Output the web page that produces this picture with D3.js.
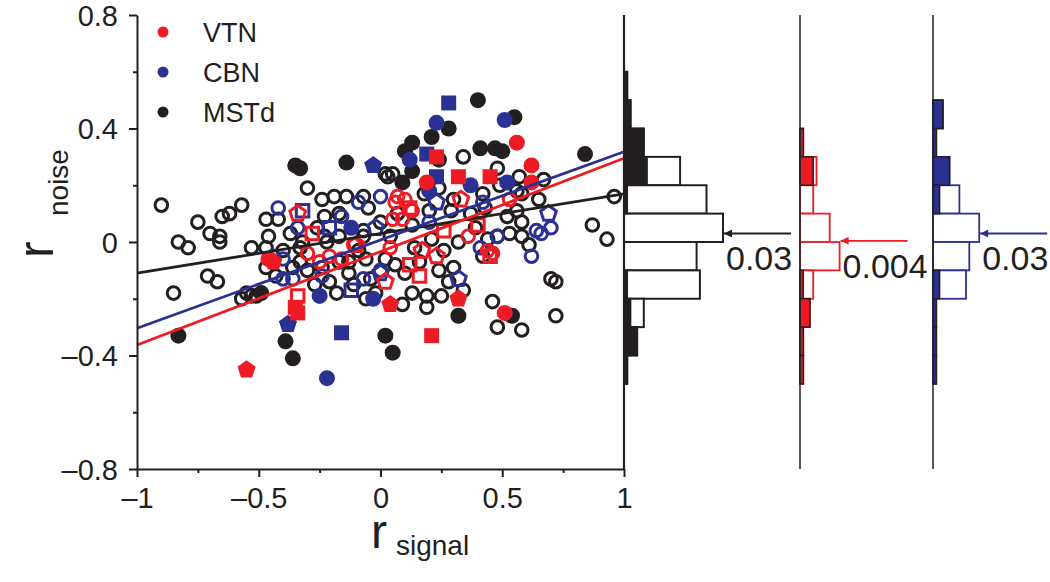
<!DOCTYPE html>
<html><head><meta charset="utf-8">
<script src="https://cdn.jsdelivr.net/npm/d3@7"></script>
<style>
body{margin:0;background:#fff;}
text{font-family:"Liberation Sans",Arial,Helvetica,sans-serif;fill:#231f20;}
</style></head>
<body><svg id="c" width="1050" height="582"></svg>
<script>
// ---------------- data ----------------
const mstdSig = [[-0.35,0.27],[-0.33,0.26],[-0.14,0.28],[0.40,0.50],[0.55,0.44],[0.28,0.40],[0.13,0.35],[0.21,0.37],[0.10,0.32],[0.41,0.33],[0.47,0.33],[0.50,0.32],[0.84,0.31],[0.13,0.25],[0.09,0.21],[0.24,0.29],[-0.49,-0.18],[-0.83,-0.33],[-0.39,-0.35],[-0.36,-0.41],[0.02,-0.33],[0.05,-0.39],[0.32,-0.26],[0.54,-0.26]];
const mstdOpen = [[-0.90,0.13],[-0.83,0.00],[-0.79,-0.02],[-0.75,0.07],[-0.70,0.03],[-0.66,0.02],[-0.66,0.00],[-0.65,0.09],[-0.62,0.10],[-0.57,0.13],
[-0.71,-0.12],[-0.67,-0.14],[-0.85,-0.18],[-0.57,-0.20],[-0.53,-0.19],[-0.30,0.19],[-0.47,0.08],[-0.42,0.08],[-0.46,0.02],[-0.47,-0.02],
[-0.37,0.03],[-0.24,0.15],[-0.19,0.16],[-0.14,0.16],[-0.07,0.16],[-0.05,0.12],[0.02,0.24],[-0.23,0.09],[-0.17,0.10],[-0.26,0.05],
[-0.23,0.02],[-0.07,0.04],[-0.32,0.00],[-0.33,-0.07],[-0.13,-0.07],[-0.06,-0.06],[-0.53,-0.02],[-0.40,-0.03],[-0.33,-0.02],[-0.22,0.00],[-0.17,0.02],[-0.07,0.02],[0.04,0.02],
[-0.36,-0.09],[-0.30,-0.10],[-0.24,-0.09],[-0.17,-0.07],[-0.13,-0.11],[-0.43,-0.12],[-0.47,-0.09],[-0.55,-0.18],[-0.51,-0.19],[-0.18,-0.18],[-0.06,-0.20],[-0.02,-0.18],
[0.05,0.24],[0.03,0.23],[0.34,0.30],[0.48,0.26],[0.24,0.19],[0.42,0.17],[0.56,0.18],[0.58,0.17],[0.57,0.23],[0.67,0.22],
[0.52,0.09],[0.56,0.11],[0.58,0.07],[0.53,0.03],[0.58,0.02],[0.48,0.02],[0.29,0.11],[0.43,0.12],[0.96,0.16],[0.87,0.06],[0.93,0.01],[0.44,0.01],
[0.70,-0.13],[0.72,-0.14],[0.72,-0.26],[0.48,-0.30],[0.58,-0.31],[0.46,-0.21],[0.09,-0.22],[0.13,-0.18],[0.19,-0.23],[0.19,-0.19],[0.25,-0.19],[0.30,-0.09],
[0.06,-0.08],[0.10,-0.11],[0.16,-0.07],[0.24,-0.10],[0.26,-0.03],[0.32,0.00],[0.39,0.05],[0.37,0.10],[0.30,0.15],[0.20,0.11],[0.13,0.06],[0.07,0.10],[0.00,0.07],
[-0.09,-0.03],[-0.04,-0.13],[-0.11,-0.15],[-0.21,-0.14],[-0.27,-0.15],[0.02,-0.06],[0.14,-0.02],[0.21,0.01],[0.28,-0.14],[0.34,-0.17],[0.61,-0.01],[0.65,0.15],[0.49,0.20],[0.18,0.17],[0.42,-0.05]];

const vtnSigCircle = [[0.56,0.35],[0.62,0.27],[0.62,0.21],[0.19,0.21],[0.51,-0.25],[-0.46,-0.06]];
const vtnSigSquare = [[0.23,0.30],[0.32,0.23],[0.45,0.23],[-0.35,-0.23],[-0.34,-0.25],[0.21,-0.33]];
const vtnSigPent = [[-0.55,-0.45],[0.32,-0.20],[0.04,-0.22],[-0.44,-0.07]];
const vtnOpenCircle = [[-0.30,-0.04],[-0.21,-0.05],[-0.25,-0.07],[-0.16,-0.06],[-0.11,-0.01],[0.04,-0.02],[0.06,0.14],[0.05,0.08],[0.07,0.16],[0.10,0.15],[0.09,0.08],[0.44,-0.03],[0.53,0.15],[0.36,0.02],[0.46,-0.04],[0.13,0.11]];
const vtnOpenSquare = [[-0.28,0.03],[-0.34,-0.19],[0.12,0.12],[0.26,0.04],[0.40,0.06],[0.12,-0.08],[0.16,-0.12],[0.45,-0.05]];
const vtnOpenPent = [[-0.34,0.10],[-0.10,-0.01],[0.02,-0.14],[0.33,0.15],[0.17,-0.03],[0.23,-0.05]];

const cbnSigCircle = [[0.23,0.42],[0.51,0.43],[0.12,0.29],[0.20,0.18],[0.37,0.20],[0.52,0.21],[-0.25,-0.19],[-0.03,-0.20],[-0.22,-0.48],[-0.12,0.05]];
const cbnSigSquare = [[0.28,0.49],[0.19,0.31],[0.23,0.23],[-0.16,-0.32]];
const cbnSigPent = [[-0.03,0.27],[-0.38,-0.29]];
const cbnOpenCircle = [[-0.42,0.12],[-0.34,0.05],[-0.09,0.14],[0.00,0.16],[-0.16,0.09],[-0.40,-0.13],[-0.36,-0.13],[-0.24,-0.12],[-0.07,-0.13],[0.00,-0.10],[0.20,0.07],[0.42,0.14],[0.64,0.04],[0.41,-0.02],[0.62,-0.05],[0.70,0.05],[0.66,0.03],[0.48,0.02],[-0.40,-0.06],[-0.44,-0.05]];
const cbnOpenSquare = [[-0.32,0.11],[-0.21,0.05],[-0.12,-0.17]];
const cbnOpenPent = [[-0.02,0.05],[0.00,-0.11],[0.23,0.14],[0.69,0.10],[0.32,-0.13]];

// regression lines: MSTd, CBN, VTN
const fitNames = ["MSTd","CBN","VTN"];
const fitSlopes = [0.14,0.311,0.329];
const fitIntercepts = [0.03,0.007,-0.034];

// histograms (bins of width 0.1, lower edges)
const binLower = [0.5,0.4,0.3,0.2,0.1,0,-0.1,-0.2,-0.3,-0.4,-0.5];
const mstdAll  = [1,2,6,17,25,30,22,23,6,4,1];
const mstdSigH = [1,2,6,7,1,0,0,1,2,4,1];
const vtnAll   = [0,0,1,5,4,9,12,4,3,1,1];
const vtnSigH  = [0,0,1,4,0,0,0,1,3,1,1];
const cbnAll   = [0,3,1,5,8,14,11,10,1,1,1];
const cbnSigH  = [0,3,1,5,2,0,0,2,1,1,1];
const histMeans = [0.03,0.004,0.03];
const histMeanLabels = ["0.03","0.004","0.03"];

const legendLabels = ["VTN","CBN","MSTd"];
const xTicks = [-1,-0.5,0,0.5,1];
const xMinor = [-0.75,-0.25,0.25,0.75];
const yTicks = [-0.8,-0.4,0,0.4,0.8];
const yMinor = [-0.6,-0.2,0.2,0.6];

// ---------------- drawing ----------------
const RED="#ed1c24", BLUE="#2b3192", BLK="#231f20";
const svg = d3.select("#c");
const x = d3.scaleLinear().domain([-1,1]).range([137,624]);
const y = d3.scaleLinear().domain([-0.8,0.8]).range([469,15]);
const fmt = d => d<0 ? "\u2013"+String(Math.abs(d)) : String(d);

function pent(r){
  const p=[];
  for(let k=0;k<5;k++){const a=-Math.PI/2+k*2*Math.PI/5;p.push([r*Math.cos(a),r*Math.sin(a)]);}
  return "M"+p.map(q=>q[0].toFixed(2)+","+q[1].toFixed(2)).join("L")+"Z";
}
function drawPts(data, shape, filled, color){
  const g = svg.append("g");
  const sel = g.selectAll("path").data(data).join("path")
    .attr("transform", d=>`translate(${x(d[0])},${y(d[1])})`);
  let dstr;
  if(shape==="circle") dstr = filled ? d3.symbol(d3.symbolCircle, Math.PI*8*8)() : d3.symbol(d3.symbolCircle, Math.PI*6.3*6.3)();
  else if(shape==="square") dstr = filled ? d3.symbol(d3.symbolSquare, 15*15)() : d3.symbol(d3.symbolSquare, 12.5*12.5)();
  else dstr = filled ? pent(9.5) : pent(8.2);
  sel.attr("d", dstr);
  if(filled) sel.attr("fill", color).attr("stroke", "none");
  else sel.attr("fill","none").attr("stroke", color).attr("stroke-width", 3);
}

// scatter
drawPts(mstdOpen,"circle",false,BLK);
drawPts(mstdSig,"circle",true,BLK);
drawPts(cbnOpenCircle,"circle",false,BLUE);
drawPts(cbnOpenSquare,"square",false,BLUE);
drawPts(cbnOpenPent,"pent",false,BLUE);
drawPts(cbnSigCircle,"circle",true,BLUE);
drawPts(cbnSigSquare,"square",true,BLUE);
drawPts(cbnSigPent,"pent",true,BLUE);
drawPts(vtnOpenCircle,"circle",false,RED);
drawPts(vtnOpenSquare,"square",false,RED);
drawPts(vtnOpenPent,"pent",false,RED);
drawPts(vtnSigCircle,"circle",true,RED);
drawPts(vtnSigSquare,"square",true,RED);
drawPts(vtnSigPent,"pent",true,RED);

// regression lines
const fitColors=[BLK,BLUE,RED];
const line = d3.line().x(d=>x(d[0])).y(d=>y(d[1]));
fitNames.forEach((n,i)=>{
  const pts=[-1,1].map(v=>[v, fitIntercepts[i]+fitSlopes[i]*v]);
  svg.append("path").attr("d",line(pts)).attr("fill","none").attr("stroke",fitColors[i]).attr("stroke-width",2.8);
});

// axes
const axL = svg.append("g").attr("transform",`translate(${x(-1)},0)`)
  .call(d3.axisLeft(y).tickValues(yTicks).tickSize(8).tickSizeOuter(0).tickPadding(11).tickFormat(fmt));
const axLm = svg.append("g").attr("transform",`translate(${x(-1)},0)`)
  .call(d3.axisLeft(y).tickValues(yMinor).tickSize(4).tickSizeOuter(0).tickFormat(""));
const axB = svg.append("g").attr("transform",`translate(0,${y(-0.8)})`)
  .call(d3.axisBottom(x).tickValues(xTicks).tickSize(8).tickSizeOuter(0).tickPadding(10).tickFormat(fmt));
const axBm = svg.append("g").attr("transform",`translate(0,${y(-0.8)})`)
  .call(d3.axisBottom(x).tickValues(xMinor).tickSize(4).tickSizeOuter(0).tickFormat(""));
[axL,axLm,axB,axBm].forEach(a=>{
  a.selectAll("path,line").attr("stroke",BLK).attr("stroke-width",2);
  a.selectAll("text").attr("font-size",29).attr("fill",BLK)
   .style("font-family",'"Liberation Sans",Arial,sans-serif');
});
axL.selectAll("text").attr("dy","0.36em");
axLm.select(".domain").remove(); axBm.select(".domain").remove();

// axis titles
svg.append("text").attr("transform","translate(53,258) rotate(-90)")
  .attr("font-size",50).text("r");
svg.append("text").attr("transform","translate(68,216) rotate(-90)")
  .attr("font-size",28).text("noise");
svg.append("text").attr("x",371).attr("y",548).attr("font-size",48).text("r");
svg.append("text").attr("x",396).attr("y",555).attr("font-size",28).text("signal");

// legend
const legColors=[RED,BLUE,BLK];
legendLabels.forEach((t,i)=>{
  svg.append("circle").attr("cx",163).attr("cy",32+40*i).attr("r",5.5).attr("fill",legColors[i]);
  svg.append("text").attr("x",203).attr("y",42+40*i).attr("font-size",27).text(t);
});

// histograms
const w = d3.scaleLinear().domain([0,30]).range([0,99]);
const bases = [x(1), 800, 933];
const hColors = [BLK, RED, BLUE];
const allH = [mstdAll, vtnAll, cbnAll];
const sigH = [mstdSigH, vtnSigH, cbnSigH];
const defs = svg.append("defs");
hColors.forEach((c,i)=>{
  defs.append("marker").attr("id","ah"+i).attr("viewBox","0 0 10 10").attr("refX",10).attr("refY",5)
    .attr("markerWidth",12).attr("markerHeight",8).attr("markerUnits","userSpaceOnUse").attr("orient","auto")
    .append("path").attr("d","M0,0L10,5L0,10Z").attr("fill",c);
});
for(let i=0;i<3;i++){
  const b=bases[i], c=hColors[i];
  const g=svg.append("g");
  const A = binLower.map((lo,k)=>({lo, n:allH[i][k]})).filter(d=>d.n>0);
  g.selectAll("rect.a").data(A).join("rect").attr("class","a")
    .attr("x",b).attr("y",d=>y(d.lo+0.1)).attr("width",d=>w(d.n)).attr("height",d=>y(d.lo)-y(d.lo+0.1))
    .attr("fill","#fff").attr("stroke",c).attr("stroke-width",i===0?2:1.8);
  const S = binLower.map((lo,k)=>({lo, n:sigH[i][k]})).filter(d=>d.n>0);
  g.selectAll("rect.s").data(S).join("rect").attr("class","s")
    .attr("x",b).attr("y",d=>y(d.lo+0.1)).attr("width",d=>w(d.n)).attr("height",d=>y(d.lo)-y(d.lo+0.1))
    .attr("fill",c).attr("stroke",BLK).attr("stroke-width",1.5);
  g.append("line").attr("x1",b).attr("x2",b).attr("y1",y(0.8)).attr("y2",y(-0.8))
    .attr("stroke",BLK).attr("stroke-width",i===0?2.2:1.5);
  // mean arrow
  const m=histMeans[i];
  const k=binLower.findIndex(lo=>m>=lo && m<lo+0.1);
  const tip=b+w(Math.max(allH[i][k], allH[i][k+1]))+1;
  svg.append("line").attr("x1",tip+67).attr("x2",tip).attr("y1",y(m)).attr("y2",y(m))
    .attr("stroke",c).attr("stroke-width",1.8).attr("marker-end",`url(#ah${i})`);
  svg.append("text").attr("x",tip+2).attr("y",y(m)+37).attr("font-size",34).text(histMeanLabels[i]);
}
</script></body></html>
